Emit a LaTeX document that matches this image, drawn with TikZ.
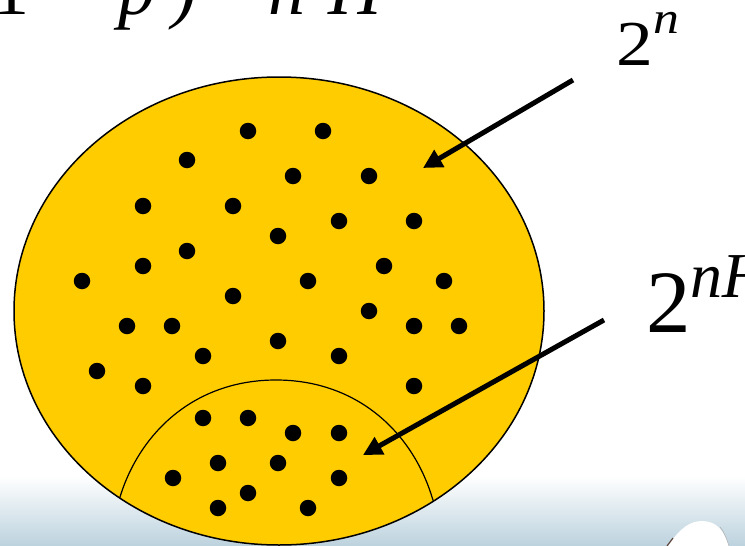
\documentclass[tikz,border=0pt]{standalone}
\usepackage{fontspec}
\setmainfont{Liberation Serif}
\usetikzlibrary{arrows.meta}
\definecolor{gold}{RGB}{255,204,0}
\definecolor{bgblue}{RGB}{188,210,222}
\definecolor{blobedge}{RGB}{95,70,60}
\tikzset{
  dotnode/.style={circle, fill=black, inner sep=0pt, minimum size=16.5pt},
  pointer/.style={line width=5pt, -{Triangle[length=19pt,width=19pt]}},
  label/.style={inner sep=0pt, anchor=base west},
}
\begin{document}
\begin{tikzpicture}[x=1pt,y=-1pt]
\useasboundingbox (0,0) rectangle (745,546);
% bottom gradient band
\shade[top color=white, bottom color=bgblue] (0,476) rectangle (745,546);
% bottom-right blob
\fill[white] (668,546) .. controls (680,528) and (690,521) .. (702,521)
  .. controls (716,521) and (724,530) .. (729,546) -- cycle;
\draw[blobedge, line width=1.2pt] (667,546) -- (673,538);
\draw[gray!60, line width=0.6pt] (720,527) .. controls (725,533) and (727,540) .. (729,546);
% big set
\draw[fill=gold, line width=1.5pt] (279,311) ellipse [x radius=265, y radius=234];
% typical set boundary
\begin{scope}
  \clip (279,311) ellipse [x radius=265, y radius=234];
  \draw[line width=1.2pt] (117,506) -- (120,497)
    .. controls (140,432) and (195,380) .. (276,380)
    .. controls (357,380) and (412,432) .. (432,497) -- (435,506);
\end{scope}
% dots
\foreach \x/\y [count=\i] in {
  248/131, 323/131,
  187/160, 293/176, 369/176,
  143/206, 233/206, 339/221, 414/221,
  278/236, 187/251,
  82/281, 143/266, 233/296, 308/281, 384/266, 444/281,
  127/326, 172/326, 369/311, 414/326, 459/326,
  278/341, 203/356, 339/356,
  97/371, 143/386, 414/386,
  203/418, 248/418, 293/433, 339/433,
  218/463, 278/463, 173/478, 339/478,
  248/493, 218/508, 308/508}
  \node[dotnode] (d\i) at (\x,\y) {};
% labels
\node[label, font=\fontsize{74}{74}\selectfont] (formula) at (-8,15)
  {\rlap{1}\hspace{56pt}\rlap{−}\hspace{70pt}\rlap{\textit{p}}\hspace{54pt}\rlap{\textit{)}}\hspace{36pt}\rlap{=}\hspace{60pt}\rlap{\textit{n}}\hspace{60pt}\textit{H}};
\node[label, xscale=1.15] (lab1) at (616,65)
  {\fontsize{64}{64}\selectfont 2\raisebox{32pt}{\fontsize{45}{45}\selectfont\textit{n}}};
\node[label] (lab2) at (646,332)
  {\fontsize{89}{89}\selectfont 2\raisebox{35pt}{\fontsize{64}{64}\selectfont\textit{nH}}};
% arrows
\coordinate (t1) at (573,80);
\coordinate (h1) at (423,168);
\coordinate (t2) at (604,320);
\coordinate (h2) at (363,455);
\draw[pointer] (t1) -- (h1);
\draw[pointer] (t2) -- (h2);
\end{tikzpicture}
\end{document}
